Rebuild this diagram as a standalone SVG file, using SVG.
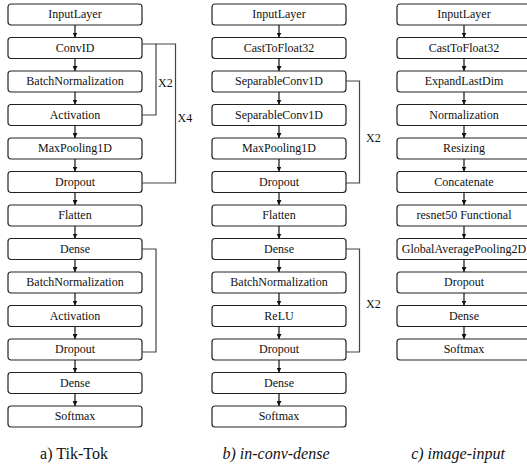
<svg xmlns="http://www.w3.org/2000/svg" width="527" height="468" viewBox="0 0 527 468">
<defs>
<style>
text{font-family:'Liberation Serif','Times New Roman','DejaVu Serif',serif}
.box rect{fill:#fff;stroke:#222;stroke-width:1.2}
.box text{font-size:12px;fill:#111;text-anchor:middle}
.ar{stroke:#111;stroke-width:1.2;fill:none}
.br{stroke:#444;stroke-width:1.2;fill:none}
.lbl{font-size:12px;fill:#111}
.cap{font-size:16px;fill:#111;text-anchor:middle}
</style>
<marker id="ah" viewBox="0 0 10 10" refX="10" refY="5" markerWidth="5" markerHeight="5" markerUnits="userSpaceOnUse" orient="auto"><path d="M0,0L10,5L0,10z" fill="#111"/></marker>
</defs>
<rect width="527" height="468" fill="#fff"/>

<!-- Column a -->
<g id="a0" class="box"><rect x="8" y="4" width="134" height="21" rx="3"/><text x="75" y="18.2">InputLayer</text></g>
<g id="a1" class="box"><rect x="8" y="37.5" width="134" height="21" rx="3"/><text x="75" y="51.7">ConvID</text></g>
<g id="a2" class="box"><rect x="8" y="71" width="134" height="21" rx="3"/><text x="75" y="85.2">BatchNormalization</text></g>
<g id="a3" class="box"><rect x="8" y="104.5" width="134" height="21" rx="3"/><text x="75" y="118.7">Activation</text></g>
<g id="a4" class="box"><rect x="8" y="138" width="134" height="21" rx="3"/><text x="75" y="152.2">MaxPooling1D</text></g>
<g id="a5" class="box"><rect x="8" y="171.5" width="134" height="21" rx="3"/><text x="75" y="185.7">Dropout</text></g>
<g id="a6" class="box"><rect x="8" y="205" width="134" height="21" rx="3"/><text x="75" y="219.2">Flatten</text></g>
<g id="a7" class="box"><rect x="8" y="238.5" width="134" height="21" rx="3"/><text x="75" y="252.7">Dense</text></g>
<g id="a8" class="box"><rect x="8" y="272" width="134" height="21" rx="3"/><text x="75" y="286.2">BatchNormalization</text></g>
<g id="a9" class="box"><rect x="8" y="305.5" width="134" height="21" rx="3"/><text x="75" y="319.7">Activation</text></g>
<g id="a10" class="box"><rect x="8" y="339" width="134" height="21" rx="3"/><text x="75" y="353.2">Dropout</text></g>
<g id="a11" class="box"><rect x="8" y="372.5" width="134" height="21" rx="3"/><text x="75" y="386.7">Dense</text></g>
<g id="a12" class="box"><rect x="8" y="406" width="134" height="21" rx="3"/><text x="75" y="420.2">Softmax</text></g>

<!-- Column b -->
<g id="b0" class="box"><rect x="212" y="4" width="134" height="21" rx="3"/><text x="279" y="18.2">InputLayer</text></g>
<g id="b1" class="box"><rect x="212" y="37.5" width="134" height="21" rx="3"/><text x="279" y="51.7">CastToFloat32</text></g>
<g id="b2" class="box"><rect x="212" y="71" width="134" height="21" rx="3"/><text x="279" y="85.2">SeparableConv1D</text></g>
<g id="b3" class="box"><rect x="212" y="104.5" width="134" height="21" rx="3"/><text x="279" y="118.7">SeparableConv1D</text></g>
<g id="b4" class="box"><rect x="212" y="138" width="134" height="21" rx="3"/><text x="279" y="152.2">MaxPooling1D</text></g>
<g id="b5" class="box"><rect x="212" y="171.5" width="134" height="21" rx="3"/><text x="279" y="185.7">Dropout</text></g>
<g id="b6" class="box"><rect x="212" y="205" width="134" height="21" rx="3"/><text x="279" y="219.2">Flatten</text></g>
<g id="b7" class="box"><rect x="212" y="238.5" width="134" height="21" rx="3"/><text x="279" y="252.7">Dense</text></g>
<g id="b8" class="box"><rect x="212" y="272" width="134" height="21" rx="3"/><text x="279" y="286.2">BatchNormalization</text></g>
<g id="b9" class="box"><rect x="212" y="305.5" width="134" height="21" rx="3"/><text x="279" y="319.7">ReLU</text></g>
<g id="b10" class="box"><rect x="212" y="339" width="134" height="21" rx="3"/><text x="279" y="353.2">Dropout</text></g>
<g id="b11" class="box"><rect x="212" y="372.5" width="134" height="21" rx="3"/><text x="279" y="386.7">Dense</text></g>
<g id="b12" class="box"><rect x="212" y="406" width="134" height="21" rx="3"/><text x="279" y="420.2">Softmax</text></g>

<!-- Column c -->
<g id="c0" class="box"><rect x="397" y="4" width="136" height="21" rx="3"/><text x="464" y="18.2">InputLayer</text></g>
<g id="c1" class="box"><rect x="397" y="37.5" width="136" height="21" rx="3"/><text x="464" y="51.7">CastToFloat32</text></g>
<g id="c2" class="box"><rect x="397" y="71" width="136" height="21" rx="3"/><text x="464" y="85.2">ExpandLastDim</text></g>
<g id="c3" class="box"><rect x="397" y="104.5" width="136" height="21" rx="3"/><text x="464" y="118.7">Normalization</text></g>
<g id="c4" class="box"><rect x="397" y="138" width="136" height="21" rx="3"/><text x="464" y="152.2">Resizing</text></g>
<g id="c5" class="box"><rect x="397" y="171.5" width="136" height="21" rx="3"/><text x="464" y="185.7">Concatenate</text></g>
<g id="c6" class="box"><rect x="397" y="205" width="136" height="21" rx="3"/><text x="464" y="219.2">resnet50 Functional</text></g>
<g id="c7" class="box"><rect x="397" y="238.5" width="136" height="21" rx="3"/><text x="464" y="252.7">GlobalAveragePooling2D</text></g>
<g id="c8" class="box"><rect x="397" y="272" width="136" height="21" rx="3"/><text x="464" y="286.2">Dropout</text></g>
<g id="c9" class="box"><rect x="397" y="305.5" width="136" height="21" rx="3"/><text x="464" y="319.7">Dense</text></g>
<g id="c10" class="box"><rect x="397" y="339" width="136" height="21" rx="3"/><text x="464" y="353.2">Softmax</text></g>

<g id="connectors">
<!-- column a arrows -->
<path class="ar" d="M75,25V37.5" marker-end="url(#ah)"/>
<path class="ar" d="M75,58.5V71" marker-end="url(#ah)"/>
<path class="ar" d="M75,92V104.5" marker-end="url(#ah)"/>
<path class="ar" d="M75,125.5V138" marker-end="url(#ah)"/>
<path class="ar" d="M75,159V171.5" marker-end="url(#ah)"/>
<path class="ar" d="M75,192.5V205" marker-end="url(#ah)"/>
<path class="ar" d="M75,226V238.5" marker-end="url(#ah)"/>
<path class="ar" d="M75,259.5V272" marker-end="url(#ah)"/>
<path class="ar" d="M75,293V305.5" marker-end="url(#ah)"/>
<path class="ar" d="M75,326.5V339" marker-end="url(#ah)"/>
<path class="ar" d="M75,360V372.5" marker-end="url(#ah)"/>
<path class="ar" d="M75,393.5V406" marker-end="url(#ah)"/>
<!-- column b arrows -->
<path class="ar" d="M279,25V37.5" marker-end="url(#ah)"/>
<path class="ar" d="M279,58.5V71" marker-end="url(#ah)"/>
<path class="ar" d="M279,92V104.5" marker-end="url(#ah)"/>
<path class="ar" d="M279,125.5V138" marker-end="url(#ah)"/>
<path class="ar" d="M279,159V171.5" marker-end="url(#ah)"/>
<path class="ar" d="M279,192.5V205" marker-end="url(#ah)"/>
<path class="ar" d="M279,226V238.5" marker-end="url(#ah)"/>
<path class="ar" d="M279,259.5V272" marker-end="url(#ah)"/>
<path class="ar" d="M279,293V305.5" marker-end="url(#ah)"/>
<path class="ar" d="M279,326.5V339" marker-end="url(#ah)"/>
<path class="ar" d="M279,360V372.5" marker-end="url(#ah)"/>
<path class="ar" d="M279,393.5V406" marker-end="url(#ah)"/>
<!-- column c arrows -->
<path class="ar" d="M464,25V37.5" marker-end="url(#ah)"/>
<path class="ar" d="M464,58.5V71" marker-end="url(#ah)"/>
<path class="ar" d="M464,92V104.5" marker-end="url(#ah)"/>
<path class="ar" d="M464,125.5V138" marker-end="url(#ah)"/>
<path class="ar" d="M464,159V171.5" marker-end="url(#ah)"/>
<path class="ar" d="M464,192.5V205" marker-end="url(#ah)"/>
<path class="ar" d="M464,226V238.5" marker-end="url(#ah)"/>
<path class="ar" d="M464,259.5V272" marker-end="url(#ah)"/>
<path class="ar" d="M464,293V305.5" marker-end="url(#ah)"/>
<path class="ar" d="M464,326.5V339" marker-end="url(#ah)"/>
<!-- brackets -->
<path class="br" d="M142,44H156V115H142"/>
<path class="br" d="M156,44H175.5V183H142"/>
<path class="br" d="M142,249H156V352H142"/>
<path class="br" d="M346,81H359.5V183H346"/>
<path class="br" d="M346,249H359.5V352H346"/>
</g>

<text class="lbl" x="158" y="86.5">X2</text>
<text class="lbl" x="177.5" y="121.5">X4</text>
<text class="lbl" x="366" y="141.5">X2</text>
<text class="lbl" x="366" y="307.5">X2</text>

<text class="cap" x="74" y="459">a) Tik-Tok</text>
<text class="cap" x="276" y="459" font-style="italic">b) in-conv-dense</text>
<text class="cap" x="458" y="459" font-style="italic">c) image-input</text>
</svg>
